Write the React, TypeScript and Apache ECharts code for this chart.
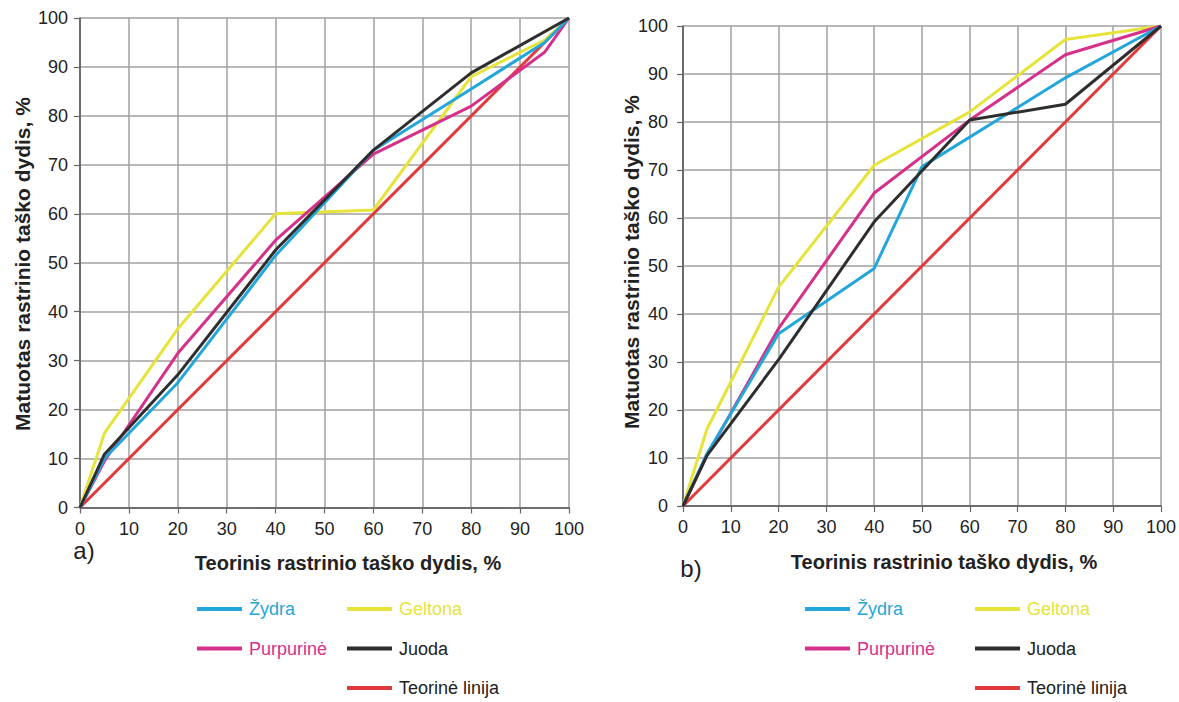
import React, { useEffect, useRef } from "react";
import * as echarts from "echarts";

// ---- data (a) ----
const xA_cyan = [0, 5, 20, 40, 60, 80, 95, 100];
const yA_cyan = [0, 10, 25.5, 51.5, 73, 85.5, 95, 100];
const xA_yellow = [0, 5, 20, 40, 60, 80, 95, 100];
const yA_yellow = [0, 15.2, 36.5, 60, 60.8, 88, 95.5, 100];
const xA_magenta = [0, 5, 20, 40, 60, 80, 95, 100];
const yA_magenta = [0, 9.5, 31.5, 54.6, 72.2, 82, 93, 100];
const xA_black = [0, 5, 20, 40, 60, 80, 100];
const yA_black = [0, 10.9, 27.1, 52.6, 73, 88.8, 100];

// ---- data (b) ----
const xB_cyan = [0, 5, 20, 40, 50, 80, 100];
const yB_cyan = [0, 10.9, 35.9, 49.5, 70.7, 89.2, 100];
const xB_yellow = [0, 5, 20, 40, 60, 80, 100];
const yB_yellow = [0, 16, 45.6, 71, 82.1, 97.2, 100];
const xB_magenta = [0, 5, 20, 40, 60, 80, 100];
const yB_magenta = [0, 10.5, 37, 65.2, 80.4, 94, 100];
const xB_black = [0, 5, 20, 40, 60, 80, 100];
const yB_black = [0, 10.5, 30.5, 59.2, 80.4, 83.7, 100];

// theoretical line
const xTheory = [0, 100];
const yTheory = [0, 100];

const names = {
  cyan: "Žydra",
  yellow: "Geltona",
  magenta: "Purpurinė",
  black: "Juoda",
  red: "Teorinė linija",
};

const COLORS = {
  cyan: "#23a7da",
  yellow: "#e6e33a",
  magenta: "#d5318b",
  black: "#2e2e2e",
  red: "#e03a3d",
};

const xTitle = "Teorinis rastrinio taško dydis, %";
const yTitle = "Matuotas rastrinio taško dydis, %";

const FONT = "'Liberation Sans', Arial, Helvetica, sans-serif";

function pairs(xs: number[], ys: number[]) {
  return xs.map((x, i) => [x, ys[i]]);
}

export default function App() {
  const ref = useRef<HTMLDivElement>(null);

  useEffect(() => {
    if (!ref.current) return;
    const chart = echarts.init(ref.current, undefined, { renderer: "svg" });

    const axisCommon = {
      type: "value" as const,
      min: 0,
      max: 100,
      interval: 10,
      axisLine: { show: true, lineStyle: { color: "#555", width: 1.5 } },
      axisTick: { show: true, length: 6, lineStyle: { color: "#666", width: 1.2 } },
      splitLine: { show: true, lineStyle: { color: "#a0a0a0", width: 1.5 } },
      axisLabel: { fontSize: 18, color: "#222", margin: 12, fontFamily: FONT },
    };

    const mk = (name: string, color: string, data: number[][], gi: number, z: number) => ({
      type: "line",
      name,
      xAxisIndex: gi,
      yAxisIndex: gi,
      data,
      symbol: "none",
      z,
      lineStyle: { color, width: 3 },
      itemStyle: { color },
    });

    const legendCol = (left: number, top: number, items: { name: string; color: string }[]) => ({
      orient: "vertical",
      left,
      top,
      height: 100,
      padding: 0,
      itemWidth: 45,
      itemHeight: 4,
      itemGap: 19.5,
      icon: "rect",
      selectedMode: false,
      textStyle: { fontSize: 18, fontFamily: FONT, lineHeight: 20, padding: [0, 0, 0, 2] },
      data: items.map((it) => ({ name: it.name, textStyle: { color: it.color } })),
    });

    const col1 = [
      { name: names.cyan, color: COLORS.cyan },
      { name: names.magenta, color: COLORS.magenta },
    ];
    const col2 = [
      { name: names.yellow, color: COLORS.yellow },
      { name: names.black, color: "#222" },
      { name: names.red, color: "#222" },
    ];

    const option = {
      animation: false,
      textStyle: { fontFamily: FONT },
      grid: [
        { left: 80, top: 18, width: 489, height: 489.5, containLabel: false },
        { left: 683, top: 26, width: 478, height: 480, containLabel: false },
      ],
      xAxis: [
        { ...axisCommon, gridIndex: 0 },
        { ...axisCommon, gridIndex: 1 },
      ],
      yAxis: [
        { ...axisCommon, gridIndex: 0 },
        { ...axisCommon, gridIndex: 1, axisLabel: { ...axisCommon.axisLabel, margin: 15 } },
      ],
      legend: [
        legendCol(197, 599, col1),
        legendCol(347, 599, col2),
        legendCol(805, 599, col1),
        legendCol(975, 599, col2),
      ],
      series: [
        mk(names.red, COLORS.red, pairs(xTheory, yTheory), 0, 2),
        mk(names.yellow, COLORS.yellow, pairs(xA_yellow, yA_yellow), 0, 3),
        mk(names.magenta, COLORS.magenta, pairs(xA_magenta, yA_magenta), 0, 4),
        mk(names.cyan, COLORS.cyan, pairs(xA_cyan, yA_cyan), 0, 5),
        mk(names.black, COLORS.black, pairs(xA_black, yA_black), 0, 6),
        mk(names.red, COLORS.red, pairs(xTheory, yTheory), 1, 2),
        mk(names.yellow, COLORS.yellow, pairs(xB_yellow, yB_yellow), 1, 3),
        mk(names.magenta, COLORS.magenta, pairs(xB_magenta, yB_magenta), 1, 4),
        mk(names.cyan, COLORS.cyan, pairs(xB_cyan, yB_cyan), 1, 5),
        mk(names.black, COLORS.black, pairs(xB_black, yB_black), 1, 6),
      ],
      graphic: [
        {
          type: "text",
          x: 348,
          y: 563,
          style: { text: xTitle, font: `bold 20px ${FONT}`, fill: "#222", align: "center", verticalAlign: "middle" },
        },
        {
          type: "text",
          x: 944,
          y: 562,
          style: { text: xTitle, font: `bold 20px ${FONT}`, fill: "#222", align: "center", verticalAlign: "middle" },
        },
        {
          type: "text",
          x: 22,
          y: 264,
          rotation: Math.PI / 2,
          style: { text: yTitle, font: `bold 21px ${FONT}`, fill: "#222", align: "center", verticalAlign: "middle" },
        },
        {
          type: "text",
          x: 631,
          y: 262,
          rotation: Math.PI / 2,
          style: { text: yTitle, font: `bold 21px ${FONT}`, fill: "#222", align: "center", verticalAlign: "middle" },
        },
        {
          type: "text",
          x: 84,
          y: 550,
          style: { text: "a)", font: `24px ${FONT}`, fill: "#222", align: "center", verticalAlign: "middle" },
        },
        {
          type: "text",
          x: 691,
          y: 568,
          style: { text: "b)", font: `24px ${FONT}`, fill: "#222", align: "center", verticalAlign: "middle" },
        },
      ],
    };

    chart.setOption(option as any);
    return () => chart.dispose();
  }, []);

  return (
    <div
      ref={ref}
      style={{ position: "absolute", left: 0, top: 0, width: 1179, height: 702, background: "#fff" }}
    />
  );
}
